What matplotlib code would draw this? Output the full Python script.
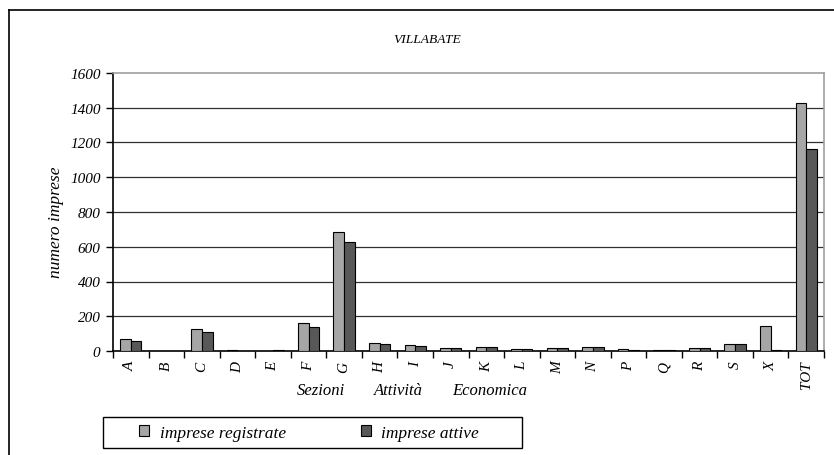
import matplotlib
matplotlib.use("Agg")
import matplotlib.pyplot as plt
import numpy as np
from matplotlib.lines import Line2D
from matplotlib.patches import Patch, Rectangle

categories = ["A", "B", "C", "D", "E", "F", "G", "H", "I", "J", "K", "L", "M",
              "N", "P", "Q", "R", "S", "X", "TOT"]
registrate = [69, 0, 124, 3, 2, 161, 684, 44, 32, 17, 23, 13, 17, 25, 9, 8, 17, 40, 146, 1425]
attive = [55, 0, 109, 2, 3, 138, 626, 40, 31, 16, 22, 12, 17, 21, 8, 8, 17, 40, 8, 1161]
yticks = [0, 200, 400, 600, 800, 1000, 1200, 1400, 1600]

plt.rcParams['font.family'] = ['Liberation Serif', 'DejaVu Serif']
plt.rcParams['font.style'] = 'italic'

W, H = 834, 456
fig = plt.figure(figsize=(W / 100, H / 100), dpi=100)

def fx(px):
    return px / W

def fy(py):
    return 1 - py / H

# outer chart border (left and top visible)
fig.add_artist(Line2D([fx(9), fx(9)], [fy(11), 0], color='black', lw=1.2, transform=fig.transFigure))
fig.add_artist(Line2D([fx(9), 1], [fy(11), fy(11)], color='black', lw=1.2, transform=fig.transFigure))

ax = fig.add_axes([fx(113), fy(352), fx(824) - fx(113), fy(74) - fy(352)])
x = np.arange(len(categories))
bw = 0.3
ax.bar(x - bw / 2, registrate, width=bw, color='#A6A6A6', edgecolor='black', linewidth=0.8,
       zorder=3)
ax.bar(x + bw / 2, attive, width=bw, color='#585858', edgecolor='black', linewidth=0.8,
       zorder=3)

ax.set_xlim(-0.5, len(categories) - 0.5)
ax.set_ylim(0, 1600)
ax.set_yticks(yticks)
ax.set_yticklabels([str(v) for v in yticks], fontsize=11, style='italic')
for v in yticks[1:-1]:
    ax.axhline(v, color='#303030', lw=0.9, zorder=1)

# x ticks at category boundaries, labels at centers
ax.set_xticks(np.arange(-0.5, len(categories) + 0.5, 1))
ax.set_xticklabels([])
ax.set_xticks(x, minor=True)
ax.set_xticklabels(categories, minor=True, rotation=90, fontsize=11, style='italic')
ax.tick_params(axis='x', which='minor', length=0, pad=7)
ax.tick_params(axis='x', which='major', length=5, width=1, direction='out', color='black')
ax.tick_params(axis='y', length=5, width=1, direction='out', pad=4)

ax.spines['left'].set_color('black')
ax.spines['left'].set_linewidth(1.2)
ax.spines['bottom'].set_color('black')
ax.spines['bottom'].set_linewidth(1.2)
ax.spines['top'].set_color('#A0A0A0')
ax.spines['top'].set_linewidth(1.2)
ax.spines['right'].set_color('#A0A0A0')
ax.spines['right'].set_linewidth(1.2)

fig.text(fx(427), fy(40), 'VILLABATE', ha='center', va='center', fontsize=9.7, style='italic')
fig.text(fx(56), fy(222), 'numero imprese', ha='center', va='center', rotation=90,
         fontsize=12.5, style='italic')
for word, cx in [('Sezioni', 321), ('Attività', 398), ('Economica', 490)]:
    fig.text(fx(cx), fy(391), word, ha='center', va='center', fontsize=12, style='italic')

# legend frame
fig.add_artist(Rectangle((fx(103), fy(449)), fx(522) - fx(103), fy(418) - fy(449),
                         transform=fig.transFigure, facecolor='white', edgecolor='black',
                         linewidth=1.0, zorder=1))
handles = [Patch(facecolor='#A6A6A6', edgecolor='black', linewidth=0.8),
           Patch(facecolor='#585858', edgecolor='black', linewidth=0.8)]
leg = fig.legend(handles, ['imprese registrate', 'imprese attive'], ncol=2,
                 loc='center left', bbox_to_anchor=(fx(139), fy(434)),
                 frameon=False, fontsize=12.5,
                 handlelength=0.6, handleheight=0.6, handletextpad=0.6, borderaxespad=0,
                 borderpad=0, columnspacing=4.3)
leg.set_zorder(2)
for t in leg.get_texts():
    t.set_style('italic')

fig.savefig('out.png', dpi=100)
